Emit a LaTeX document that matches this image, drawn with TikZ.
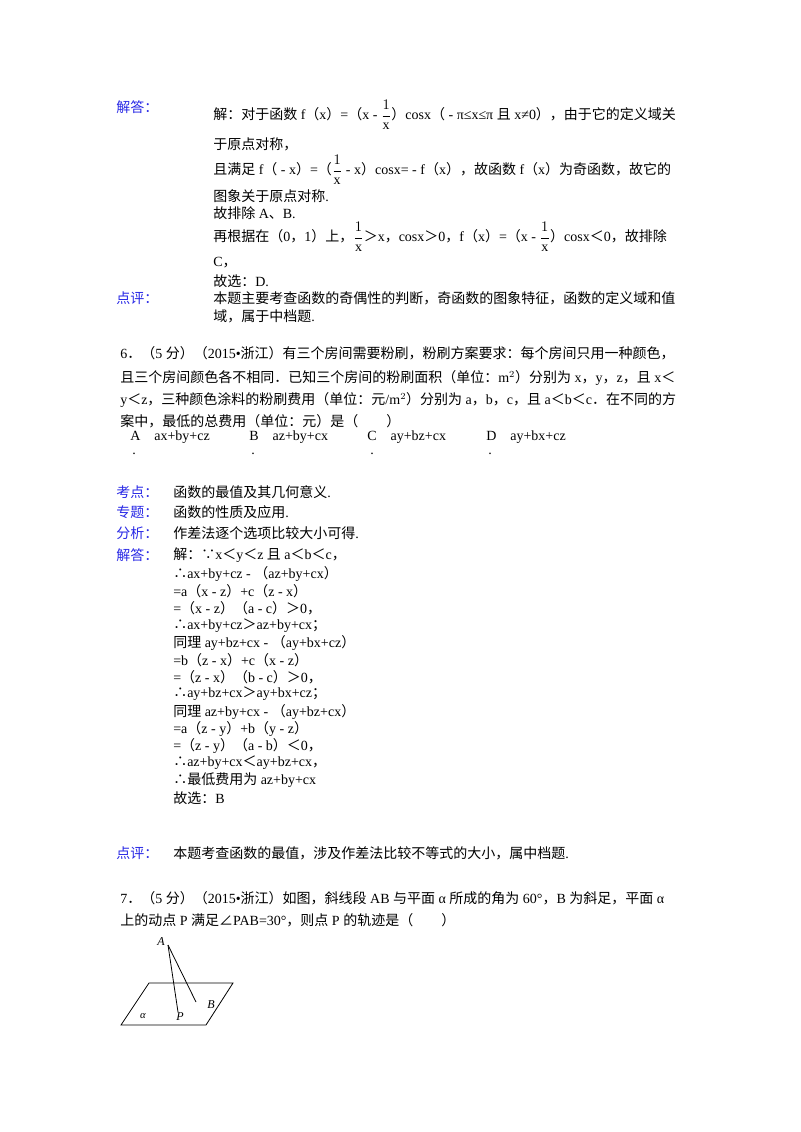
\documentclass[tikz,border=0pt]{standalone}
\usepackage{amsmath}
\usepackage{fontspec}
\setmainfont{Liberation Serif}
\newfontfamily\latinf{Liberation Serif}
\newfontfamily\cjk{Noto Sans CJK SC}
\XeTeXinterchartokenstate=1
\newXeTeXintercharclass\cjkcls
\newcount\cc
\def\setrange#1#2{\cc=#1 \loop \XeTeXcharclass\cc=\cjkcls \ifnum\cc<#2 \advance\cc 1 \repeat}
\setrange{"3000}{"303F}
\setrange{"4E00}{"9FFF}
\setrange{"FF00}{"FFEF}
\XeTeXcharclass"2234=\cjkcls
\XeTeXcharclass"2235=\cjkcls
\XeTeXcharclass"2220=\cjkcls
\XeTeXinterchartoks 0 \cjkcls={\cjk}
\XeTeXinterchartoks \cjkcls 0={\latinf}
\XeTeXinterchartoks 4095 \cjkcls={\cjk}
\XeTeXinterchartoks \cjkcls 4095={\latinf}
\newcommand\fr{\dfrac{1}{\mathrm{x}}}
\definecolor{lblue}{RGB}{40,40,230}
\begin{document}
\begin{tikzpicture}[x=0.75pt,y=-0.75pt,
  t/.style={anchor=west,inner sep=0pt,font=\fontsize{10.5}{12}\selectfont},
  lb/.style={t,text=lblue},
  ln/.style={line width=0.6pt}]
\useasboundingbox (0,0) rectangle (800,1132);
\fill[white] (0,0) rectangle (800,1132);
% top answer
\node[lb] (l1) at (116,107) {解答：};
\node[t] (a1) at (213,115) {解：对于函数 f（x）=（x - $\fr$）cosx（ - π≤x≤π 且 x≠0），由于它的定义域关};
\node[t] (a2) at (213,144) {于原点对称，};
\node[t] (a3) at (213,170) {且满足 f（ - x）=（$\fr$ - x）cosx= - f（x），故函数 f（x）为奇函数，故它的};
\node[t] (a4) at (213,196) {图象关于原点对称.};
\node[t] (a5) at (213,213) {故排除 A、B.};
\node[t] (a6) at (213,237) {再根据在（0，1）上，$\fr$＞x，cosx＞0，f（x）=（x - $\fr$）cosx＜0，故排除};
\node[t] (a7) at (213,263) {C，};
\node[t] (a8) at (213,281) {故选：D.};
\node[lb] (l2) at (116,298) {点评：};
\node[t] (a9) at (213,298) {本题主要考查函数的奇偶性的判断，奇函数的图象特征，函数的定义域和值};
\node[t] (a10) at (213,316) {域，属于中档题.};
% Q6
\node[t] (q1) at (120,353) {6．（5 分）（2015•浙江）有三个房间需要粉刷，粉刷方案要求：每个房间只用一种颜色，};
\node[t] (q2) at (120,378) {且三个房间颜色各不相同．已知三个房间的粉刷面积（单位：m$^2$）分别为 x，y，z，且 x＜};
\node[t] (q3) at (120,400) {y＜z，三种颜色涂料的粉刷费用（单位：元/m$^2$）分别为 a，b，c，且 a＜b＜c．在不同的方};
\node[t] (q4) at (120,421) {案中，最低的总费用（单位：元）是（\quad\quad ）};
\node[t] (oA) at (130,437) {A\quad ax+by+cz};
\node[t] (oB) at (249,437) {B\quad az+by+cx};
\node[t] (oC) at (367,437) {C\quad ay+bz+cx};
\node[t] (oD) at (486,437) {D\quad ay+bx+cz};
\node[t] (dA) at (132,454) {.};
\node[t] (dB) at (251,454) {.};
\node[t] (dC) at (370,454) {.};
\node[t] (dD) at (488,454) {.};
% analysis
\node[lb] (k1) at (116,492) {考点：};
\node[lb] (k2) at (116,512) {专题：};
\node[lb] (k3) at (116,533) {分析：};
\node[lb] (k4) at (116,555) {解答：};
\node[t] (s1) at (173,492) {函数的最值及其几何意义.};
\node[t] (s2) at (173,512) {函数的性质及应用.};
\node[t] (s3) at (173,533) {作差法逐个选项比较大小可得.};
\node[t] (s4) at (173,555) {解：∵x＜y＜z 且 a＜b＜c，};
\node[t] (s5) at (173,574) {∴ax+by+cz - （az+by+cx）};
\node[t] (s6) at (173,591) {=a（x - z）+c（z - x）};
\node[t] (s7) at (173,608) {=（x - z）（a - c）＞0，};
\node[t] (s8) at (173,626) {∴ax+by+cz＞az+by+cx；};
\node[t] (s9) at (173,643) {同理 ay+bz+cx - （ay+bx+cz）};
\node[t] (s10) at (173,660) {=b（z - x）+c（x - z）};
\node[t] (s11) at (173,677) {=（z - x）（b - c）＞0，};
\node[t] (s12) at (173,694) {∴ay+bz+cx＞ay+bx+cz；};
\node[t] (s13) at (173,712) {同理 az+by+cx - （ay+bz+cx）};
\node[t] (s14) at (173,729) {=a（z - y）+b（y - z）};
\node[t] (s15) at (173,746) {=（z - y）（a - b）＜0，};
\node[t] (s16) at (173,763) {∴az+by+cx＜ay+bz+cx，};
\node[t] (s17) at (173,780) {∴最低费用为 az+by+cx};
\node[t] (s18) at (173,798) {故选：B};
\node[lb] (k5) at (116,853) {点评：};
\node[t] (s19) at (173,853) {本题考查函数的最值，涉及作差法比较不等式的大小，属中档题.};
% Q7
\node[t] (r1) at (120,898) {7．（5 分）（2015•浙江）如图，斜线段 AB 与平面 α 所成的角为 60°，B 为斜足，平面 α};
\node[t] (r2) at (120,920) {上的动点 P 满足∠PAB=30°，则点 P 的轨迹是（\quad\quad ）};
% figure
\coordinate (TL) at (149,983);
\coordinate (TR) at (233,983);
\coordinate (BR) at (206,1025);
\coordinate (BL) at (121,1025);
\coordinate (A) at (168,945);
\coordinate (P) at (178,1012);
\coordinate (B) at (196,1002);
\draw[ln] (TL) -- (TR) -- (BR) -- (BL) -- cycle;
\draw[ln] (A) -- (P);
\draw[ln] (A) -- (B);
\node[font=\itshape\small,inner sep=0] (nA) at (161,942) {A};
\node[font=\itshape\small,inner sep=0] (nB) at (211,1005) {B};
\node[font=\itshape\small,inner sep=0] (nP) at (180,1017) {P};
\node[font=\itshape\footnotesize,inner sep=0] (na) at (143,1016) {α};
\end{tikzpicture}
\end{document}
